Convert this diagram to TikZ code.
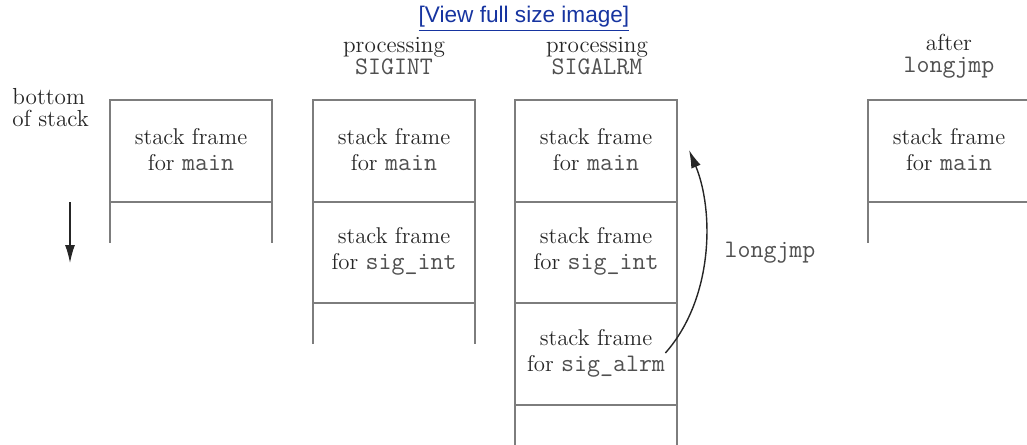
\documentclass[tikz,border=0pt]{standalone}
\usepackage{fontspec}
\setsansfont{Liberation Sans}
\usepackage{xcolor}
\usepackage{tikz}
\usetikzlibrary{arrows.meta}
\definecolor{wallgray}{RGB}{125,125,125}
\definecolor{txtgray}{RGB}{38,38,38}
\definecolor{codegray}{RGB}{80,80,80}
\definecolor{linkblue}{RGB}{22,52,160}
\newcommand{\cd}[1]{{\fontsize{12.6}{13}\selectfont\ttfamily\color{codegray}#1}}

\begin{document}
\begin{tikzpicture}[x=0.5pt, y=-0.5pt,
        frm/.style={align=center, inner sep=0pt, text=txtgray,
                    font=\fontsize{11.4}{13}\selectfont},
        hdr/.style={align=center, inner sep=0pt, text=txtgray,
                    font=\fontsize{11.6}{11}\selectfont},
        wall/.style={wallgray, line width=1pt},
        jmp/.style={black!85, line width=0.7pt,
                    -{Latex[length=9pt,width=5pt]}}
      ]
        \useasboundingbox (0,0) rectangle (1027,444);
        % link line on top
        \node[inner sep=0pt, text=linkblue,
              font=\sffamily\fontsize{11.3}{12}\selectfont]
              at (524,19) (link) {\underline{[View full size image]}};
        % the four stacks: left x / number of frames
        \foreach \cx/\nf in {110/1,313/2,515/3,868/1} {
          \draw[wall] (\cx,100+\nf*101.5+41) -- (\cx,100)
                -- (\cx+162,100) -- (\cx+162,100+\nf*101.5+41);
          \foreach \k in {1,...,\nf}
            \draw[wall] (\cx,100+\k*101.5) -- (\cx+162,100+\k*101.5);
        }
        % headers
        \node[hdr, anchor=west, align=left] at (12,108) (bos) {bottom\\of stack};
        \node[hdr] at (394,56) (h2) {processing\\\cd{SIGINT}};
        \node[hdr] at (597,56) (h3) {processing\\\cd{SIGALRM}};
        \node[hdr] at (949,56) (h4) {after\\\cd{longjmp}};
        % frames
        \node[frm] at (191,150) (main1) {stack frame\\for \cd{main}};
        \node[frm] at (394,150) (main2) {stack frame\\for \cd{main}};
        \node[frm] at (394,251) (int2) {stack frame\\for \cd{sig\_int}};
        \node[frm] at (596,150) (main3) {stack frame\\for \cd{main}};
        \node[frm] at (596,251) (int3) {stack frame\\for \cd{sig\_int}};
        \node[frm] at (596,353) (alrm3) {stack frame\\for \cd{sig\_alrm}};
        \node[frm] at (949,150) (main4) {stack frame\\for \cd{main}};
        % growth direction
        \coordinate (dtop) at (70,202);
        \coordinate (dbot) at (70,263);
        \draw[jmp] (dtop) -- (dbot);
        % jump back to main
        \coordinate (jto) at (689,150);
        \draw[jmp] (alrm3.east) .. controls (714,298) and (714,210) .. (jto);
        \node[inner sep=0pt, text=codegray] at (770,253) (jlab) {\cd{longjmp}};
      \end{tikzpicture}
\end{document}
